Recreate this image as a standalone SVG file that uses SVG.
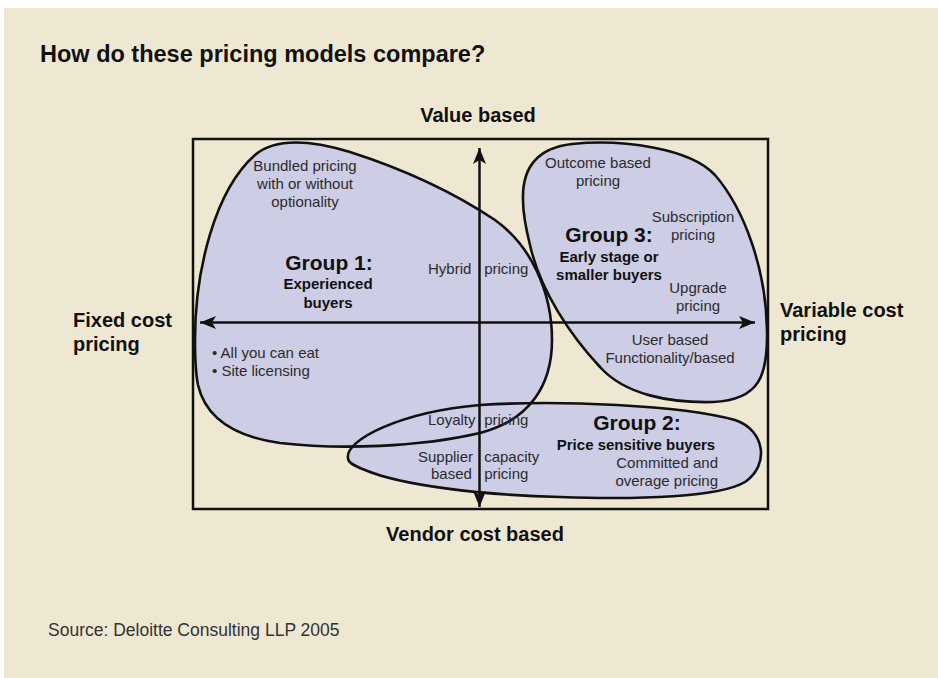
<svg xmlns="http://www.w3.org/2000/svg" xmlns:xlink="http://www.w3.org/1999/xlink" width="938" height="678" viewBox="0 0 938 678">
<style>
text{font-family:"Liberation Sans",Arial,sans-serif}
.t{font-size:15px;fill:#2b2b2b}
.b{font-weight:bold;fill:#111}
.g{font-size:21px}
.s{font-size:15px}
.ax{font-size:20px}
.c{text-anchor:middle}
.e{text-anchor:end}
.fill{fill:#CDCDE5;stroke:none}
.outline{fill:none;stroke:#111;stroke-width:2.6;stroke-linejoin:round}
.frame{fill:none;stroke:#111;stroke-width:2.5}
.axis{stroke:#111;stroke-width:2.5;fill:none}
</style>
<defs>
<marker id="arr" markerUnits="userSpaceOnUse" markerWidth="20" markerHeight="16" viewBox="-18 -8 20 16" refX="0" refY="0" orient="auto-start-reverse">
<path d="M0,0 L-16,-6.5 L-12,0 L-16,6.5 Z" fill="#111"/>
</marker>
<path id="g1p" d="M195,340 C195,270 215,190 255,155 C275,138 310,140 350,152 C400,168 450,190 495,220 C530,245 552,290 552,340 C552,385 530,420 480,433 C420,447 340,450 280,443 C230,436 205,415 198,385 C195,370 195,355 195,340 Z"/>
<path id="g2p" d="M348,458 C345,440 400,412 480,405 C560,400 680,405 735,420 C765,430 770,465 745,482 C720,497 640,500 560,497 C480,495 400,485 365,470 C352,465 348,462 348,458 Z"/>
<path id="g3p" d="M523,200 C522,168 537,148 572,144 C622,139 690,148 715,175 C745,210 766,270 767,330 C768,375 760,400 713,402 C670,403 625,395 600,367 C570,335 540,290 530,245 C525,225 523,212 523,200 Z"/>
</defs>
<rect x="0" y="0" width="938" height="678" fill="#ffffff"/>
<rect x="4" y="8" width="934" height="670" fill="#EEE8D3"/>
<text class="b" x="40" y="62" style="font-size:23.5px">How do these pricing models compare?</text>
<g id="blob-fills">
<use xlink:href="#g1p" class="fill"/>
<use xlink:href="#g2p" class="fill"/>
<use xlink:href="#g3p" class="fill"/>
</g>
<rect id="frame" x="193" y="139" width="575" height="370" class="frame"/>
<g id="connectors">
<line class="axis" x1="479.5" y1="507" x2="479.5" y2="148" marker-start="url(#arr)" marker-end="url(#arr)"/>
<line class="axis" x1="200" y1="322.5" x2="755" y2="322.5" marker-start="url(#arr)" marker-end="url(#arr)"/>
</g>
<g id="axis-labels">
<text class="b ax c" x="478" y="122">Value based</text>
<text class="b ax c" x="475" y="541">Vendor cost based</text>
<text class="b ax" x="73" y="327">Fixed cost</text>
<text class="b ax" x="73" y="351">pricing</text>
<text class="b ax" x="780" y="317">Variable cost</text>
<text class="b ax" x="780" y="341">pricing</text>
</g>
<g id="group1">
<use xlink:href="#g1p" class="outline"/>
<text class="t c" x="305" y="171">Bundled pricing</text>
<text class="t c" x="305" y="189">with or without</text>
<text class="t c" x="305" y="207">optionality</text>
<text class="b g c" x="329" y="270">Group 1:</text>
<text class="b s c" x="328" y="289">Experienced</text>
<text class="b s c" x="328" y="308">buyers</text>
<text class="t" y="274"><tspan x="428">Hybrid</tspan><tspan x="480"> pricing</tspan></text>
<text class="t" x="212" y="358">• All you can eat</text>
<text class="t" x="212" y="376">• Site licensing</text>
<text class="t" y="425"><tspan x="428">Loyalty</tspan><tspan x="480"> pricing</tspan></text>
</g>
<g id="group2">
<use xlink:href="#g2p" class="outline"/>
<text class="b g c" x="637" y="430">Group 2:</text>
<text class="b s c" x="636" y="450">Price sensitive buyers</text>
<text class="t e" x="718" y="468">Committed and</text>
<text class="t e" x="718" y="486">overage pricing</text>
<text class="t" y="462"><tspan x="418">Supplier</tspan><tspan x="480"> capacity</tspan></text>
<text class="t" y="479"><tspan x="431">based</tspan><tspan x="480"> pricing</tspan></text>
</g>
<g id="group3">
<use xlink:href="#g3p" class="outline"/>
<text class="t c" x="598" y="168">Outcome based</text>
<text class="t c" x="598" y="186">pricing</text>
<text class="t c" x="693" y="222">Subscription</text>
<text class="t c" x="693" y="240">pricing</text>
<text class="b g c" x="609" y="242">Group 3:</text>
<text class="b s c" x="609" y="262">Early stage or</text>
<text class="b s c" x="609" y="280">smaller buyers</text>
<text class="t c" x="698" y="293">Upgrade</text>
<text class="t c" x="698" y="311">pricing</text>
<text class="t c" x="670" y="345">User based</text>
<text class="t c" x="670" y="363">Functionality/based</text>
</g>
<text class="t" x="48" y="636" style="font-size:17.5px;fill:#333">Source: Deloitte Consulting LLP 2005</text>
</svg>
